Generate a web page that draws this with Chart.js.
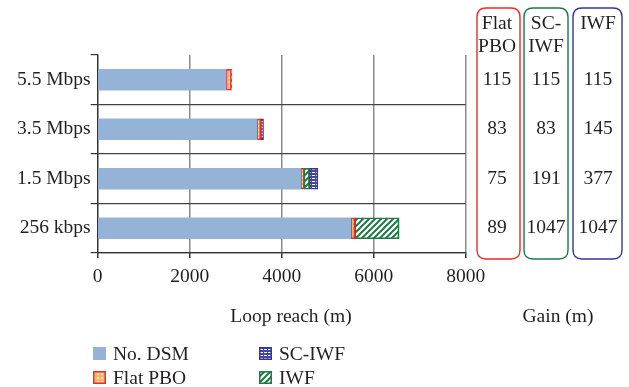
<!DOCTYPE html>
<html>
<head>
<meta charset="utf-8">
<script src="https://cdn.jsdelivr.net/npm/chart.js@4.4.0/dist/chart.umd.min.js"></script>
<style>
  html, body { margin: 0; padding: 0; background: #fff; }
  #wrap { position: relative; width: 629px; height: 387px; }
</style>
</head>
<body>
<div id="wrap"><canvas id="reachChart" width="629" height="387"></canvas></div>
<script>
// --- data ---
const categories = ['5.5 Mbps', '3.5 Mbps', '1.5 Mbps', '256 kbps'];
const noDsmReach = [2790, 3460, 4410, 5500];
const flatPboSegment = [115, 83, 75, 89];
const greenSegment = [0, 0, 116, 958];   // drawn green hatched, legend says "IWF"
const blueSegment = [0, 62, 186, 0];     // drawn blue striped, legend says "SC-IWF"
const xTicks = [0, 2000, 4000, 6000, 8000];

const gainHeaders = [['Flat', 'PBO'], ['SC-', 'IWF'], ['IWF']];
const gainFlatPbo = [115, 83, 75, 89];
const gainScIwf = [115, 83, 191, 1047];
const gainIwf = [115, 145, 377, 1047];

const FONT = '"Liberation Serif", "Times New Roman", serif';
const FONT_SIZE = 19.5;
const TEXT = '#231f20';

const canvas = document.getElementById('reachChart');
const ctx = canvas.getContext('2d');

function makePattern(w, h, paint) {
    const c = document.createElement('canvas');
    c.width = w; c.height = h;
    paint(c.getContext('2d'), w, h);
    return ctx.createPattern(c, 'repeat');
}

const flatFill = makePattern(4, 4, (g, w, h) => {
    g.fillStyle = '#f7b46c'; g.fillRect(0, 0, w, h);
    g.fillStyle = '#fde2b6'; g.fillRect(1, 1, 2, 2);
});
const stripeFill = makePattern(4, 3, (g, w, h) => {
    g.fillStyle = '#4646a6'; g.fillRect(0, 0, w, h);
    g.fillStyle = '#ffffff'; g.fillRect(0, 1, 3, 1);
});
const hatchFill = makePattern(6, 6, (g, w, h) => {
    g.fillStyle = '#ffffff'; g.fillRect(0, 0, w, h);
    g.strokeStyle = '#1f7a48'; g.lineWidth = 2;
    g.beginPath();
    g.moveTo(0, h); g.lineTo(w, 0);
    g.moveTo(-2, 2); g.lineTo(2, -2);
    g.moveTo(w - 2, h + 2); g.lineTo(w + 2, h - 2);
    g.stroke();
});

const segBorder = c => (c.raw ? 1.5 : 0);

const datasets = [
    { label: 'No. DSM', data: noDsmReach, backgroundColor: '#95b3d7', borderWidth: 0 },
    { label: 'Flat PBO', data: flatPboSegment, backgroundColor: flatFill, borderColor: '#ee2a2a', borderWidth: segBorder },
    { label: 'IWF', data: greenSegment, backgroundColor: hatchFill, borderColor: '#1f7a48', borderWidth: segBorder },
    { label: 'SC-IWF', data: blueSegment, backgroundColor: stripeFill, borderColor: '#35359a', borderWidth: segBorder }
];

// legend laid out in two columns like the figure
const legendItems = [
    { label: 'No. DSM', fill: '#95b3d7', border: null, x: 93, y: 347 },
    { label: 'Flat PBO', fill: flatFill, border: '#ee2a2a', x: 93, y: 371 },
    { label: 'SC-IWF', fill: stripeFill, border: '#35359a', x: 259, y: 347 },
    { label: 'IWF', fill: hatchFill, border: '#1f7a48', x: 259, y: 371 }
];

function roundBox(g, x, y, w, h, r) {
    g.beginPath();
    g.moveTo(x + r, y);
    g.lineTo(x + w - r, y);
    g.quadraticCurveTo(x + w, y, x + w, y + r);
    g.lineTo(x + w, y + h - r);
    g.quadraticCurveTo(x + w, y + h, x + w - r, y + h);
    g.lineTo(x + r, y + h);
    g.quadraticCurveTo(x, y + h, x, y + h - r);
    g.lineTo(x, y + r);
    g.quadraticCurveTo(x, y, x + r, y);
    g.closePath();
}

const extrasPlugin = {
    id: 'extras',
    afterDraw(chart) {
        const g = chart.ctx;
        const yScale = chart.scales.y;
        g.save();
        g.fillStyle = TEXT;
        g.font = FONT_SIZE + 'px ' + FONT;
        g.textAlign = 'center';
        g.textBaseline = 'alphabetic';

        // axis titles
        g.fillText('Loop reach (m)', 291, 322);
        g.fillText('Gain (m)', 558, 322);

        // gain table
        const columns = [
            { cx: 497, box: [477, 8, 43, 251], color: '#ee2a2a', values: gainFlatPbo },
            { cx: 546, box: [524, 8, 44, 251], color: '#1f7a48', values: gainScIwf },
            { cx: 598, box: [573, 8, 49, 251], color: '#35359a', values: gainIwf }
        ];
        columns.forEach((col, i) => {
            g.strokeStyle = col.color;
            g.lineWidth = 1.4;
            roundBox(g, col.box[0], col.box[1], col.box[2], col.box[3], 9);
            g.stroke();
            g.fillStyle = TEXT;
            gainHeaders[i].forEach((line, k) => g.fillText(line, col.cx, 29 + k * 23));
            col.values.forEach((v, j) => {
                g.fillText(String(v), col.cx, yScale.getPixelForValue(j) + 5);
            });
        });

        // legend
        g.textAlign = 'left';
        legendItems.forEach(item => {
            g.fillStyle = item.fill;
            g.fillRect(item.x, item.y, 13, 13);
            if (item.border) {
                g.strokeStyle = item.border;
                g.lineWidth = 1.5;
                g.strokeRect(item.x + 0.75, item.y + 0.75, 11.5, 11.5);
            }
            g.fillStyle = TEXT;
            g.fillText(item.label, item.x + 20, item.y + 12.5);
        });
        g.restore();
    }
};

new Chart(ctx, {
    type: 'bar',
    data: { labels: categories, datasets: datasets },
    options: {
        indexAxis: 'y',
        responsive: false,
        devicePixelRatio: 1,
        animation: false,
        layout: { padding: { top: 55, right: 163.3, left: 0, bottom: 0 } },
        datasets: { bar: { barThickness: 21, borderSkipped: false } },
        scales: {
            x: {
                stacked: true,
                min: 0,
                max: 8000,
                afterBuildTicks: scale => { scale.ticks = xTicks.map(v => ({ value: v })); },
                afterFit: scale => { scale.height = 134; },
                grid: { color: '#8a8a8a', lineWidth: 1.5, tickLength: 5, tickColor: '#333' },
                border: { color: '#333', width: 1.3 },
                ticks: {
                    color: TEXT,
                    font: { family: FONT, size: FONT_SIZE },
                    padding: 7,
                    maxRotation: 0,
                    callback: v => String(v)
                }
            },
            y: {
                stacked: true,
                afterFit: scale => { scale.width = 97.7; },
                grid: {
                    offset: true,
                    color: c => (c.index === 0 || c.index === categories.length) ? 'rgba(0,0,0,0)' : '#444',
                    lineWidth: 1.2,
                    tickLength: 7,
                    tickColor: '#333'
                },
                border: { color: '#333', width: 1.3 },
                ticks: { color: TEXT, font: { family: FONT, size: FONT_SIZE }, padding: 0 }
            }
        },
        plugins: {
            legend: { display: false },
            tooltip: { enabled: false }
        }
    },
    plugins: [extrasPlugin]
});
</script>
</body>
</html>
